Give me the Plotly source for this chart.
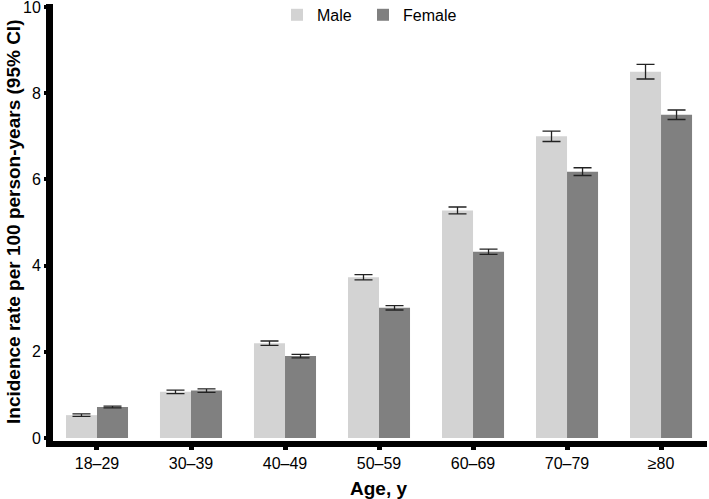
import plotly.graph_objects as go

categories = ["18–29", "30–39", "40–49", "50–59", "60–69", "70–79", "≥80"]
male = [0.53, 1.07, 2.20, 3.73, 5.28, 7.00, 8.50]
male_ci = [0.03, 0.04, 0.05, 0.06, 0.08, 0.12, 0.17]
female = [0.72, 1.10, 1.90, 3.02, 4.32, 6.18, 7.50]
female_ci = [0.02, 0.04, 0.04, 0.05, 0.06, 0.09, 0.11]

font_family = "Liberation Sans, Arial, sans-serif"

fig = go.Figure()
fig.add_trace(go.Bar(
    name="Male", x=categories, y=male, marker=dict(color="#d3d3d3", line=dict(width=0)),
    error_y=dict(type="data", array=male_ci, color="#222222", thickness=1.3, width=9),
    legend="legend",
))
fig.add_trace(go.Bar(
    name="Female", x=categories, y=female, marker=dict(color="#808080", line=dict(width=0)),
    error_y=dict(type="data", array=female_ci, color="#222222", thickness=1.3, width=9),
    legend="legend2",
))

legend_common = dict(orientation="h", xanchor="left", y=1.014, yanchor="top",
                     font=dict(size=16), bgcolor="rgba(0,0,0,0)")

fig.update_layout(
    width=709, height=499,
    margin=dict(l=53, r=2, t=4, b=58, autoexpand=False),
    barmode="group", bargap=0.34, bargroupgap=0,
    plot_bgcolor="white", paper_bgcolor="white",
    font=dict(family=font_family, size=16, color="black"),
    showlegend=True,
    legend=dict(x=(277 - 53) / 654, **legend_common),
    legend2=dict(x=(363 - 53) / 654, **legend_common),
    xaxis=dict(
        automargin=False,
        showline=True, linecolor="black", linewidth=6,
        ticks="outside", ticklen=3, tickwidth=5, tickcolor="black",
        range=[-0.468, 6.489], showgrid=False,
        tickfont=dict(size=16), ticklabeloverflow="allow",
    ),
    yaxis=dict(
        automargin=False,
        showline=True, linecolor="black", linewidth=7,
        ticks="outside", ticklen=2, tickwidth=4, tickcolor="black",
        range=[-0.07, 10.07], tickvals=[0, 2, 4, 6, 8, 10], showgrid=False, zeroline=False,
        tickfont=dict(size=16), ticklabeloverflow="allow",
    ),
    annotations=[
        dict(text="<b>Age, y</b>", xref="paper", yref="paper", x=(378 - 53) / 654, y=-(488 - 441) / 437,
             xanchor="center", yanchor="middle", showarrow=False, font=dict(size=19)),
        dict(text="<b>Incidence rate per 100 person-years (95% CI)</b>", xref="paper", yref="paper",
             x=-(53 - 14) / 654, y=(441 - 222) / 437, xanchor="center", yanchor="middle",
             textangle=-90, showarrow=False, font=dict(size=19)),
    ],
)

fig.write_html("out.html", config={"displayModeBar": False},
               post_script="document.body.style.margin='0';")
